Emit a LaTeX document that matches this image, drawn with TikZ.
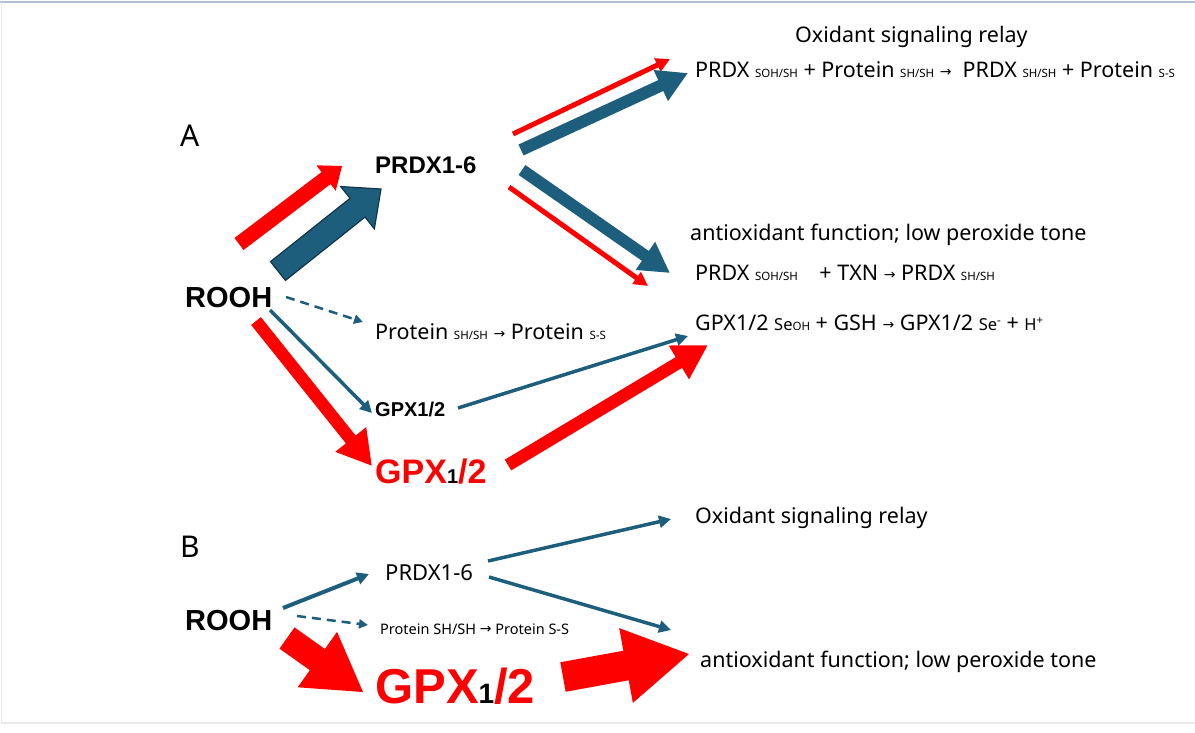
\documentclass[tikz,border=0pt]{standalone}
\usepackage{fontspec}
\setmainfont{Noto Sans}
\newfontfamily\labelfont{Liberation Sans}
\newfontfamily\arrowfont{DejaVu Sans}
\usetikzlibrary{arrows.meta,calc}

\definecolor{roxblue}{RGB}{30,94,125}
\definecolor{roxedge}{RGB}{18,52,70}
\definecolor{framegray}{RGB}{176,192,214}

\newcommand{\sm}[1]{{\fontsize{11.5}{11.5}\selectfont #1}}
\newcommand{\md}[1]{{\fontsize{16.5}{16.5}\selectfont #1}}
\newcommand{\arr}{{\arrowfont\fontsize{14}{14}\selectfont\raisebox{1pt}{→}}}
\newcommand{\upsm}[1]{\raisebox{6pt}{\sm{#1}}}
% fat arrow: style, tail, tip, half bar, half head, head length
\newcommand{\blockarrow}[6]{%
  \coordinate (neck) at ($(#3)!#6!(#2)$);
  \filldraw[#1] ($(#2)!#4!90:(#3)$) -- ($(neck)!#4!90:(#3)$) -- ($(neck)!#5!90:(#3)$) -- (#3)
    -- ($(neck)!#5!-90:(#3)$) -- ($(neck)!#4!-90:(#3)$) -- ($(#2)!#4!-90:(#3)$) -- cycle;}

\tikzset{
  lbl/.style={anchor=base west, inner sep=0pt, font=\fontsize{#1}{#1}\selectfont},
  lbl/.default=21.5,
  boldlbl/.style={anchor=base west, inner sep=0pt, font=\labelfont\bfseries\fontsize{#1}{#1}\selectfont},
  blueline/.style={draw=roxblue, line width=#1, -{Triangle[length=12pt,width=12pt]}},
  blueline/.default=3.5pt,
  blueflow/.style={draw=roxblue, line width=12pt, -{Triangle[length=30pt,width=32pt]}},
  redline/.style={draw=red, line width=5pt, -{Triangle[length=14pt,width=14pt]}},
  redflow/.style={draw=red, line width=12.5pt, -{Triangle[length=34pt,width=37pt]}},
}

\begin{document}
\begin{tikzpicture}[x=1pt,y=-1pt,line join=miter]
\useasboundingbox (0,0) rectangle (1195,732);
\draw[framegray, line width=2pt] (0,1.5) -- (1195,1.5);
\draw[black!8, line width=1.5pt] (1.5,2) -- (1.5,723) -- (1195,723);

% ---- A ----
\node[lbl] (relayA) at (795,42) {Oxidant signaling relay};
\node[lbl] (eqrelay) at (695,77) {PRDX \sm{SOH/SH} + Protein \sm{SH/SH} \arr\ \ PRDX \sm{SH/SH} + Protein \sm{S-S}};
\node[lbl=30] (labA) at (180,146) {A};
\node[boldlbl=24] (prdxA) at (375,173) {PRDX1-6};
\node[lbl] (antiA) at (690,240) {antioxidant function; low peroxide tone};
\node[lbl] (eqtxn) at (695,280) {PRDX \sm{SOH/SH}\quad + TXN \arr\ PRDX \sm{SH/SH}};
\node[lbl] (eqgsh) at (695,330) {GPX1/2 \md{Se}\sm{OH} + GSH \arr\ GPX1/2 \md{Se}\upsm{-} + \md{H}\upsm{+}};
\node[boldlbl=29] (roohA) at (185,307) {ROOH};
\node[lbl] (protA) at (375,339) {Protein \sm{SH/SH} \arr\ Protein \sm{S-S}};
\node[boldlbl=20] (gpxA) at (375,416) {GPX1/2};
\node[boldlbl=34, text=red] (gpxredA) at (375,483) {GPX{\color{black}\fontsize{20}{20}\selectfont 1}/2};

\coordinate (rA1) at (239,244); \coordinate (rA2) at (342,166);
\coordinate (bA1) at (278,271); \coordinate (bA2) at (381,189);
\blockarrow{red, draw=none}{rA1}{rA2}{7.5pt}{16pt}{20pt}
\blockarrow{fill=roxblue, draw=roxedge, line width=1.2pt}{bA1}{bA2}{12pt}{27pt}{30pt}

\coordinate (ur1) at (513,134); \coordinate (ur2) at (670,59);
\coordinate (ub1) at (521,150); \coordinate (ub2) at (688,73);
\coordinate (db1) at (522,170); \coordinate (db2) at (670,273);
\coordinate (dr1) at (509,187); \coordinate (dr2) at (648,286);
\draw[redline] (ur1) -- (ur2);
\draw[blueflow] (ub1) -- (ub2);
\draw[blueflow] (db1) -- (db2);
\draw[redline] (dr1) -- (dr2);

\coordinate (dsA1) at (286,297); \coordinate (dsA2) at (363,322);
\coordinate (gA1) at (270,310); \coordinate (gA2) at (372,413);
\coordinate (gR1) at (256,321); \coordinate (gR2) at (372,466);
\coordinate (eA1) at (458,408); \coordinate (eA2) at (688,336);
\coordinate (eR1) at (508,465); \coordinate (eR2) at (708,345);
\draw[blueline=2.5pt, dash pattern=on 9pt off 6pt, -{Triangle[length=9pt,width=9pt]}] (dsA1) -- (dsA2);
\draw[blueline] (gA1) -- (gA2);
\draw[redflow] (gR1) -- (gR2);
\draw[blueline] (eA1) -- (eA2);
\draw[redflow] (eR1) -- (eR2);

% ---- B ----
\node[lbl=30] (labB) at (180,557) {B};
\node[lbl] (relayB) at (695,523) {Oxidant signaling relay};
\node[lbl=22] (prdxB) at (385,580) {PRDX1-6};
\node[boldlbl=29] (roohB) at (185,630) {ROOH};
\node[lbl=14.5] (protB) at (380,634) {Protein SH/SH \arr\ Protein S-S};
\node[boldlbl=49, text=red] (gpxredB) at (375,703) {GPX{\color{black}\fontsize{28}{28}\selectfont 1}/2};
\node[lbl] (antiB) at (700,667) {antioxidant function; low peroxide tone};

\coordinate (pB1) at (283,608); \coordinate (pB2) at (369,574);
\coordinate (dsB1) at (297,616); \coordinate (dsB2) at (368,625);
\coordinate (oB1) at (488,561); \coordinate (oB2) at (671,519);
\coordinate (aB1) at (489,577); \coordinate (aB2) at (671,630);
\draw[blueline=4pt] (pB1) -- (pB2);
\draw[blueline=2.5pt, dash pattern=on 9pt off 6pt, -{Triangle[length=9pt,width=9pt]}] (dsB1) -- (dsB2);
\draw[blueline] (oB1) -- (oB2);
\draw[blueline] (aB1) -- (aB2);

\coordinate (rB1) at (287,638); \coordinate (rB2) at (363,692);
\coordinate (rB3) at (563,677); \coordinate (rB4) at (689,654);
\blockarrow{red, draw=none}{rB1}{rB2}{13pt}{34pt}{56pt}
\blockarrow{red, draw=none}{rB3}{rB4}{15pt}{38pt}{64pt}
\end{tikzpicture}
\end{document}
